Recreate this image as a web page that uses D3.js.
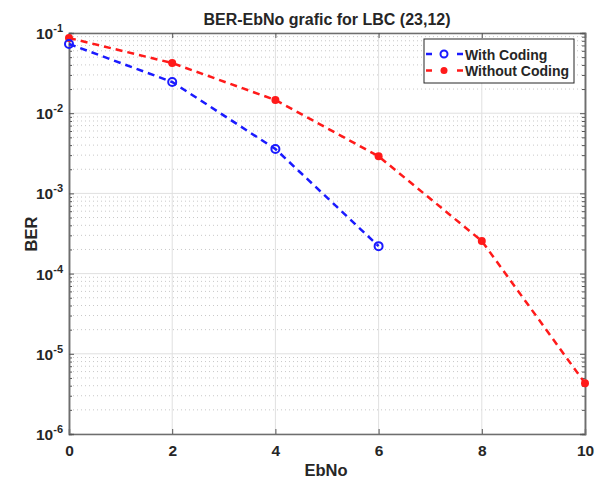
<!DOCTYPE html>
<html><head><meta charset="utf-8">
<script src="https://cdn.jsdelivr.net/npm/d3@7"></script>
<style>body{margin:0;background:#fff}svg{display:block}text{font-family:"Liberation Sans",Arial,sans-serif;font-weight:bold;fill:#262626}</style>
</head><body><svg id="c" width="598" height="481"></svg>
<script>
const ebno = [0, 2, 4, 6, 8, 10];
const berCoded = [0.073, 0.0245, 0.00358, 0.00022];
const berUncoded = [0.0867, 0.0422, 0.0146, 0.0029, 0.000255, 0.0000043];
const xTicks = [0, 2, 4, 6, 8, 10];
const yExps = [-1, -2, -3, -4, -5, -6];
const seriesNames = ["With Coding", "Without Coding"];

const svg = d3.select("#c");
const m = {l: 69, r: 585, t: 33, b: 434};
const x = d3.scaleLinear().domain([0, 10]).range([m.l, m.r]);
const y = d3.scaleLog().domain([1e-6, 1e-1]).range([m.b, m.t]);

// minor grid
const minors = [];
for (let e = -6; e < -1; e++) for (let k = 2; k <= 9; k++) minors.push(k * Math.pow(10, e));
const g = svg.append("g");
g.selectAll(".mn").data(minors).join("line")
  .attr("x1", m.l).attr("x2", m.r).attr("y1", d => y(d)).attr("y2", d => y(d))
  .attr("stroke", "#c8c8c8").attr("stroke-width", 1).attr("stroke-dasharray", "1,3");
// major grid
g.selectAll(".mjy").data(yExps.map(e => Math.pow(10, e))).join("line")
  .attr("x1", m.l).attr("x2", m.r).attr("y1", d => y(d)).attr("y2", d => y(d))
  .attr("stroke", "#e0e0e0").attr("stroke-width", 1);
g.selectAll(".mjx").data(xTicks).join("line")
  .attr("x1", d => x(d)).attr("x2", d => x(d)).attr("y1", m.t).attr("y2", m.b)
  .attr("stroke", "#e0e0e0").attr("stroke-width", 1);

// axes
const ax = svg.append("g");
const xAxis = d3.axisBottom(x).tickValues(xTicks).tickSize(-5).tickPadding(11).tickFormat(d3.format("d"));
const xg = ax.append("g").attr("transform", `translate(0,${m.b})`).call(xAxis);
ax.append("g").attr("transform", `translate(0,${m.t})`).call(d3.axisTop(x).tickValues(xTicks).tickSize(-5).tickFormat(""));
ax.append("g").attr("transform", `translate(${m.l},0)`).call(d3.axisLeft(y).tickValues(minors).tickSize(-3).tickFormat(""));
ax.append("g").attr("transform", `translate(${m.l},0)`).call(d3.axisLeft(y).tickValues(yExps.map(e => Math.pow(10, e))).tickSize(-5).tickFormat(""));
ax.append("g").attr("transform", `translate(${m.r},0)`).call(d3.axisRight(y).tickValues(minors).tickSize(-3).tickFormat(""));
ax.append("g").attr("transform", `translate(${m.r},0)`).call(d3.axisRight(y).tickValues(yExps.map(e => Math.pow(10, e))).tickSize(-5).tickFormat(""));
ax.selectAll("path.domain").attr("stroke", "#6e6e6e").attr("stroke-width", 1.5);
ax.selectAll(".tick line").attr("stroke", "#555").attr("stroke-width", 1);
xg.selectAll("text").attr("font-size", 15.5).style("font-weight", "bold").attr("fill", "#262626").attr("font-family", "Liberation Sans, Arial, sans-serif");

// y tick labels with superscript
const yl = svg.append("g");
yExps.forEach(e => {
  const t = yl.append("text").attr("x", m.l - 6).attr("y", y(Math.pow(10, e)) + 6).attr("text-anchor", "end").attr("font-size", 15.5);
  t.append("tspan").text("10");
  t.append("tspan").attr("dy", -7).attr("font-size", 11).text(String(e));
});

// lines
const line = d3.line().x((d, i) => x(ebno[i])).y(d => y(d));
const plot = svg.append("g");
plot.append("path").datum(berUncoded).attr("d", line).attr("fill", "none")
  .attr("stroke", "#ff1a1a").attr("stroke-width", 2.5).attr("stroke-dasharray", "7,5");
plot.append("path").datum(berCoded).attr("d", line).attr("fill", "none")
  .attr("stroke", "#1a1aff").attr("stroke-width", 2.5).attr("stroke-dasharray", "7,5");
plot.selectAll(".pr").data(berUncoded).join("circle")
  .attr("cx", (d, i) => x(ebno[i])).attr("cy", d => y(d)).attr("r", 4).attr("fill", "#ff1a1a");
plot.selectAll(".pb").data(berCoded).join("circle")
  .attr("cx", (d, i) => x(ebno[i])).attr("cy", d => y(d)).attr("r", 4)
  .attr("fill", "none").attr("stroke", "#1a1aff").attr("stroke-width", 2);

// title and labels
svg.append("text").attr("x", 327).attr("y", 25).attr("text-anchor", "middle").attr("font-size", 16).text("BER-EbNo grafic for LBC (23,12)");
svg.append("text").attr("x", 326).attr("y", 476).attr("text-anchor", "middle").attr("font-size", 16.5).text("EbNo");
svg.append("text").attr("transform", `translate(37,234) rotate(-90)`).attr("text-anchor", "middle").attr("font-size", 16.5).text("BER");

// legend
const lg = svg.append("g");
lg.append("rect").attr("x", 424).attr("y", 39).attr("width", 150).attr("height", 44)
  .attr("fill", "#fff").attr("stroke", "#262626").attr("stroke-width", 1);
const legendColors = ["#1a1aff", "#ff1a1a"];
seriesNames.forEach((n, i) => {
  const yy = 54 + i * 16.5;
  lg.append("line").attr("x1", 426).attr("x2", 463).attr("y1", yy).attr("y2", yy)
    .attr("stroke", legendColors[i]).attr("stroke-width", 2.5).attr("stroke-dasharray", "6,25,6");
  const c = lg.append("circle").attr("cx", 444).attr("cy", yy).attr("r", 3.5);
  if (i === 0) c.attr("fill", "none").attr("stroke", legendColors[i]).attr("stroke-width", 2);
  else c.attr("fill", legendColors[i]);
  lg.append("text").attr("x", 465).attr("y", yy + 5.5).attr("font-size", 14).text(n);
});
</script></body></html>
